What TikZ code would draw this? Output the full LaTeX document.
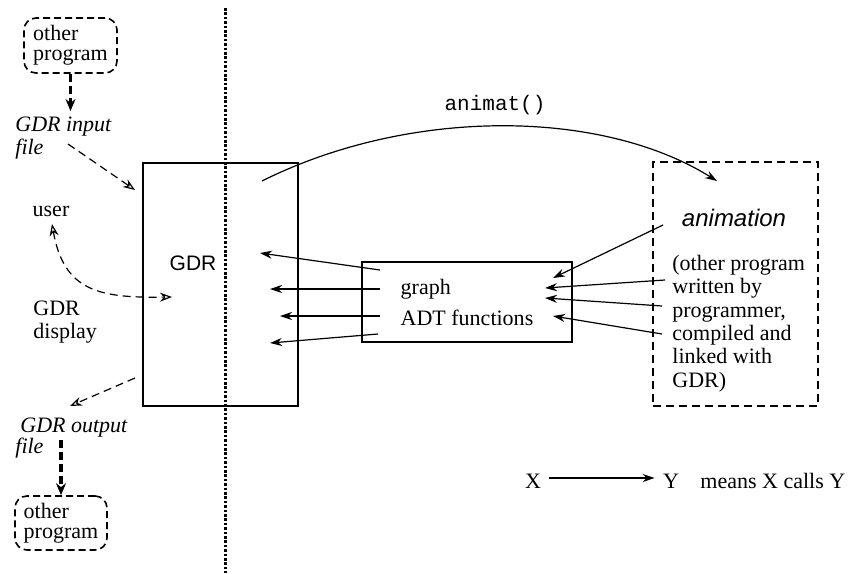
\documentclass[tikz,border=0pt]{standalone}
\usepackage{fontspec}
\setmainfont{Liberation Serif}
\setsansfont{Liberation Sans}
\setmonofont{Liberation Mono}
\usetikzlibrary{arrows.meta}
\begin{document}
\begin{tikzpicture}[x=0.5pt,y=-0.5pt]
\tikzset{
  txt/.style={font=\fontsize{11}{11.5}\selectfont, inner sep=0pt},
  itxt/.style={font=\fontsize{11}{11.5}\selectfont\itshape, inner sep=0pt, align=left},
  progbox/.style={draw, dash pattern=on 3.5pt off 2pt, rounded corners=6pt, line width=0.8pt, align=left,
    inner sep=0pt, font=\fontsize{11}{10}\selectfont},
  plainbox/.style={draw, line width=0.8pt, inner sep=0pt},
  call/.style={-{Stealth[length=6pt,width=4pt]}, line width=0.6pt},
  dcall/.style={dash pattern=on 4pt off 2.5pt, -{Stealth[open,length=6pt,width=4.5pt]}, line width=0.6pt},
  thickcall/.style={line width=1.6pt, dash pattern=on 4pt off 2pt, -{Stealth[length=6pt,width=5pt]}},
}
\useasboundingbox (0,0) rectangle (849,573);

% dotted separator
\coordinate (septop) at (225,8);
\coordinate (sepbot) at (225,573);
\draw[line width=1.5pt, dash pattern=on 1.3pt off 0.9pt] (septop) -- (sepbot);

% left column
\node[progbox, minimum width=46.5pt, minimum height=27.5pt] (prog1) at (70.5,45.5) {other\\program};
\node[itxt, anchor=north west] (infile) at (15,117) {GDR input\\file};
\node[txt, anchor=base] (user) at (51,216) {user};
\node[txt, anchor=north west, align=left] (display) at (33,301) {GDR\\display};
\node[itxt, anchor=north west, font=\fontsize{11}{10.5}\selectfont\itshape] (outfile) at (15,418) {\hspace*{2.5pt}GDR output\\file};
\node[progbox, minimum width=46pt, minimum height=27pt] (prog2) at (61,523) {other\\program};

% GDR box
\node[plainbox, minimum width=77.5pt, minimum height=121.5pt] (gdr) at (220.5,284.5) {};
\node[txt, font=\fontsize{10.5}{12}\sffamily, anchor=base] (gdrlabel) at (193,270) {GDR};

% ADT box
\node[plainbox, minimum width=105pt, minimum height=40pt, align=left,
  font=\fontsize{11}{11.5}\selectfont] (adt) at (467,302) {graph\\[4pt]ADT functions};

% animation box
\node[draw, line width=1.2pt, dash pattern=on 4pt off 2.5pt, minimum width=82.5pt,
  minimum height=122pt, inner sep=0pt] (anim) at (735.5,284) {};
\node[inner sep=0pt, font=\fontsize{12}{14}\sffamily\itshape, anchor=base] (animlabel) at (734,226) {animation};
\node[txt, anchor=north west, align=left, font=\fontsize{11}{11.65}\selectfont] (animtext) at (672,255)
  {(other program\\written by\\programmer,\\compiled and\\linked with\\GDR)};

\node[inner sep=0pt, font=\fontsize{10.5}{12}\ttfamily, anchor=base] (animat) at (495,110) {animat()};

% legend
\node[txt, anchor=base, inner xsep=4pt] (lx) at (533,488) {X};
\node[txt, anchor=base, inner xsep=4pt] (ly) at (671,488) {Y};
\node[txt, anchor=base west] (means) at (700,488) {means X calls Y};
\draw[call, line width=0.9pt] (lx.east |- 0,478) -- (ly.west |- 0,478);

% thick dashed arrows
\coordinate (inarr) at (70.5,111);
\draw[thickcall] (prog1.south) -- (inarr);
\coordinate (outarr) at (61,440);
\draw[thickcall] (outarr) -- (prog2.north);

% thin dashed arrows
\coordinate (inS) at (68,144);
\coordinate (inE) at (135,190);
\draw[dcall] (inS) -- (inE);
\coordinate (outS) at (135,378);
\coordinate (outE) at (70,406);
\draw[dcall] (outS) -- (outE);
\coordinate (userS) at (52,224);
\coordinate (userE) at (172,297);
\draw[dash pattern=on 4pt off 2.5pt, line width=0.6pt,
  {Stealth[open,length=6pt,width=4.5pt]}-{Stealth[open,length=6pt,width=4.5pt]}]
  (userS) .. controls (64,292) and (100,298) .. (userE);

% animat() curve
\coordinate (cS) at (262,181);
\coordinate (cE) at (717,181);
\draw[call] (cS) .. controls (408,108) and (600,108) .. (cE);

% ADT -> GDR
\coordinate (a1s) at (380,270); \coordinate (a1e) at (260,253);
\coordinate (a2s) at (380,289); \coordinate (a2e) at (270,289);
\coordinate (a3s) at (380,316); \coordinate (a3e) at (280,316);
\coordinate (a4s) at (378,334); \coordinate (a4e) at (270,343);
\foreach \i in {1,2,3,4} \draw[call] (a\i s) -- (a\i e);

% animation -> ADT
\coordinate (b1s) at (663,225); \coordinate (b1e) at (553,278);
\coordinate (b2s) at (665,280); \coordinate (b2e) at (545,288);
\coordinate (b3s) at (662,306); \coordinate (b3e) at (545,298);
\coordinate (b4s) at (662,334); \coordinate (b4e) at (553,316);
\foreach \i in {1,2,3,4} \draw[call] (b\i s) -- (b\i e);
\end{tikzpicture}
\end{document}
